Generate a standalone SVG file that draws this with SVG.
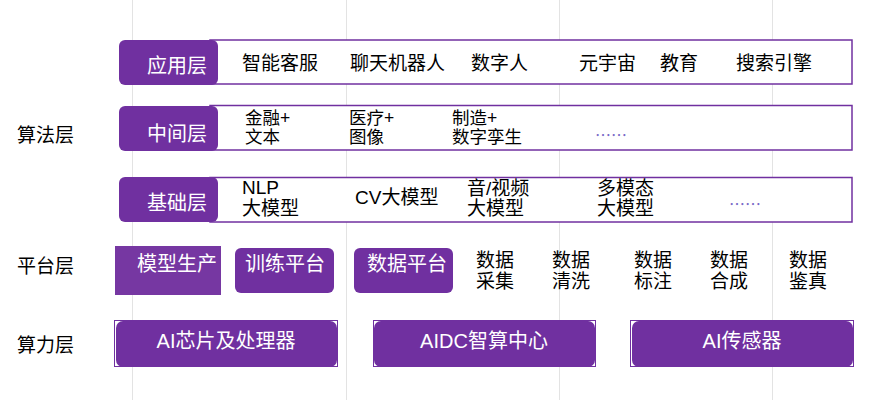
<svg xmlns="http://www.w3.org/2000/svg" width="877" height="400" viewBox="0 0 877 400">
<style>
.t{font-family:"Liberation Sans","Noto Sans CJK SC",sans-serif;font-size:19px;fill:#000}
.m{font-family:"Liberation Sans","Noto Sans CJK SC",sans-serif;font-size:17.5px;fill:#000}
.lbl{font-family:"Liberation Sans","Noto Sans CJK SC",sans-serif;font-size:20px;fill:#fff}
.side{font-family:"Noto Sans CJK SC",sans-serif;font-size:19px;fill:#000}
.dots{font-family:"Noto Sans CJK SC",sans-serif;font-size:16px;fill:#7a6ac8}
.row{fill:#fff;stroke:#7030a0;stroke-width:1.5}
.pbox{fill:#7030a0}
.grid{stroke:#e3e3e3;stroke-width:1}
.cout{fill:none;stroke:#7030a0;stroke-width:1}
</style>
<rect width="877" height="400" fill="#fff"/>
<g id="grid">
<line class="grid" x1="132.5" y1="0" x2="132.5" y2="400"/>
<line class="grid" x1="346.5" y1="0" x2="346.5" y2="400"/>
<line class="grid" x1="559.5" y1="0" x2="559.5" y2="400"/>
<line class="grid" x1="772.5" y1="0" x2="772.5" y2="400"/>
</g>
<g id="connectors"></g>
<g id="side-labels">
<text class="side" x="17" y="142">算法层</text>
<text class="side" x="17" y="273">平台层</text>
<text class="side" x="17" y="352">算力层</text>
</g>
<g id="app-layer">
<rect class="row" x="210" y="40" width="642" height="44"/>
<rect class="pbox" x="119" y="40" width="99" height="45" rx="6"/>
<text class="lbl" x="207" y="73" text-anchor="end">应用层</text>
<text class="t" x="242" y="70">智能客服</text>
<text class="t" x="350" y="70">聊天机器人</text>
<text class="t" x="471" y="70">数字人</text>
<text class="t" x="579" y="70">元宇宙</text>
<text class="t" x="660" y="70">教育</text>
<text class="t" x="736" y="70">搜索引擎</text>
</g>
<g id="mid-layer">
<rect class="row" x="210" y="105.5" width="642" height="44.5"/>
<rect class="pbox" x="119" y="106" width="99" height="45" rx="6"/>
<text class="lbl" x="207" y="141" text-anchor="end">中间层</text>
<text class="m" x="245" y="124">金融+</text>
<text class="m" x="245" y="143">文本</text>
<text class="m" x="349" y="124">医疗+</text>
<text class="m" x="349" y="143">图像</text>
<text class="m" x="452" y="124">制造+</text>
<text class="m" x="452" y="143">数字孪生</text>
<text class="dots" x="595" y="141">……</text>
</g>
<g id="base-layer">
<rect class="row" x="210" y="177.5" width="642" height="44.5"/>
<rect class="pbox" x="119" y="177" width="99" height="45" rx="6"/>
<text class="lbl" x="207" y="210" text-anchor="end">基础层</text>
<text class="t" x="242" y="194">NLP</text>
<text class="t" x="242" y="215">大模型</text>
<text class="t" x="355" y="204">CV大模型</text>
<text class="t" x="467" y="195">音/视频</text>
<text class="t" x="467" y="215">大模型</text>
<text class="t" x="597" y="195">多模态</text>
<text class="t" x="597" y="215">大模型</text>
<text class="dots" x="729" y="210">……</text>
</g>
<g id="platform-layer">
<rect x="115" y="246" width="106" height="49" fill="#7637a2"/>
<text class="lbl" x="137" y="271">模型生产</text>
<rect class="pbox" x="235" y="248" width="99" height="45" rx="6"/>
<text class="lbl" x="245" y="271">训练平台</text>
<rect class="pbox" x="354" y="248" width="99" height="45" rx="6"/>
<text class="lbl" x="367" y="271">数据平台</text>
<text class="t" x="476" y="267">数据</text>
<text class="t" x="476" y="288">采集</text>
<text class="t" x="552" y="267">数据</text>
<text class="t" x="552" y="288">清洗</text>
<text class="t" x="634" y="267">数据</text>
<text class="t" x="634" y="288">标注</text>
<text class="t" x="710" y="267">数据</text>
<text class="t" x="710" y="288">合成</text>
<text class="t" x="789" y="267">数据</text>
<text class="t" x="789" y="288">鉴真</text>
</g>
<g id="compute-chip">
<rect class="cout" x="114.5" y="320.5" width="223" height="46"/>
<rect class="pbox" x="116" y="321" width="221" height="46" rx="7"/>
<text class="lbl" x="226" y="348" text-anchor="middle">AI芯片及处理器</text>
</g>
<g id="compute-aidc">
<rect class="cout" x="373.5" y="320.5" width="222" height="46"/>
<rect class="pbox" x="374" y="321" width="221" height="46" rx="7"/>
<text class="lbl" x="484" y="348" text-anchor="middle">AIDC智算中心</text>
</g>
<g id="compute-sensor">
<rect class="cout" x="630.5" y="320.5" width="223" height="46"/>
<rect class="pbox" x="632" y="321" width="221" height="46" rx="7"/>
<text class="lbl" x="742" y="348" text-anchor="middle">AI传感器</text>
</g>
</svg>
